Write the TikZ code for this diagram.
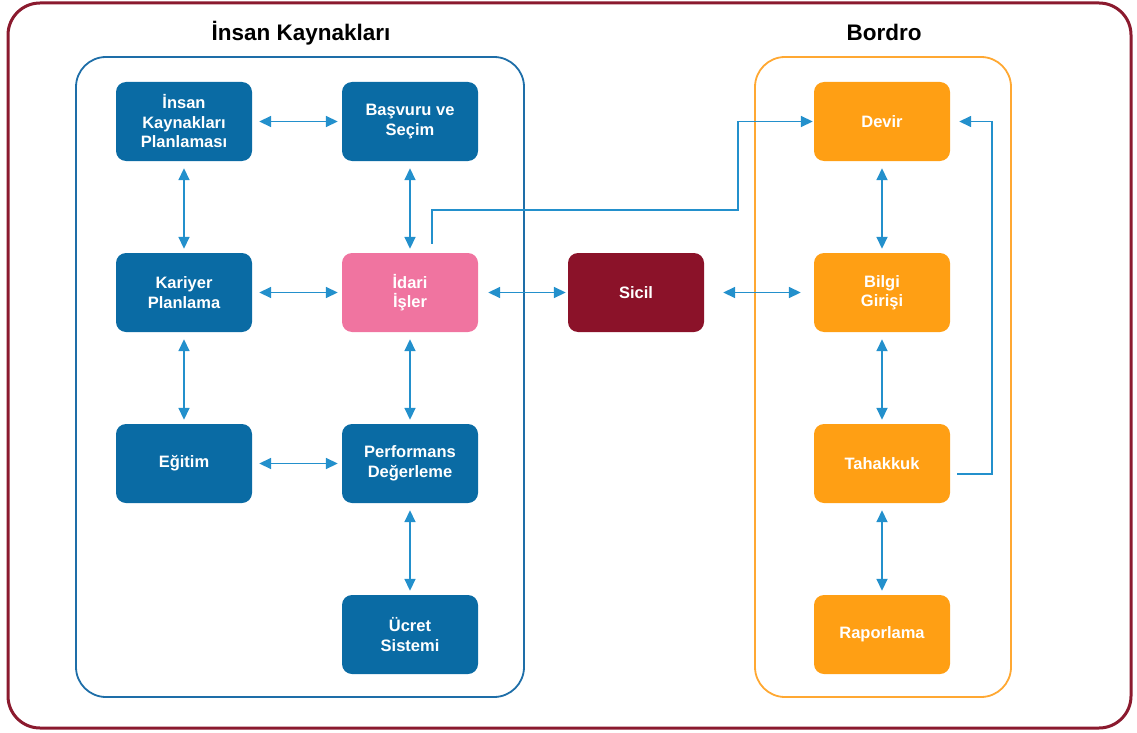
\documentclass[tikz,border=0pt]{standalone}
\usepackage{fontspec}
\setmainfont{Liberation Sans}
\usetikzlibrary{arrows.meta,calc}

\definecolor{hrblue}{RGB}{10,107,164}
\definecolor{idpink}{RGB}{240,116,160}
\definecolor{sicilred}{RGB}{139,18,41}
\definecolor{payorange}{RGB}{255,159,20}
\definecolor{linkblue}{RGB}{35,144,204}
\definecolor{hrframe}{RGB}{30,110,168}
\definecolor{payframe}{RGB}{255,168,50}
\definecolor{outerframe}{RGB}{139,26,46}

\begin{document}
\begin{tikzpicture}[x=1pt,y=-1pt,
  box/.style={rounded corners=10pt, minimum width=136pt, minimum height=79pt,
    inner sep=0pt, align=center, text=white,
    font=\bfseries\fontsize{16.5}{19.5}\selectfont},
  hrbox/.style={box, fill=hrblue},
  adminbox/.style={box, fill=idpink},
  registrybox/.style={box, fill=sicilred},
  paybox/.style={box, fill=payorange},
  grouptitle/.style={anchor=base, inner sep=0pt, font=\bfseries\fontsize{22.5}{26}\selectfont},
  tip/.tip={Triangle[length=12pt,width=11pt]},
  link/.style={draw=linkblue, line width=1.7pt, tip-tip, shorten <=7pt, shorten >=4pt},
  oneway/.style={draw=linkblue, line width=1.6pt, -tip}
]
\useasboundingbox (0,0) rectangle (1137,733);

% frames
\draw[outerframe, line width=3pt, rounded corners=32pt] (8,3) rectangle (1131,728);
\draw[hrframe, line width=1.8pt, rounded corners=30pt] (76,57) rectangle (524,697);
\draw[payframe, line width=1.8pt, rounded corners=30pt] (755,57) rectangle (1011,697);

% group titles
\node[grouptitle] (hrtitle) at (301,41) {İnsan Kaynakları};
\node[grouptitle] (paytitle) at (884,41) {Bordro};

% human resources nodes
\node[hrbox] (ikp) at (184,121.5) {İnsan\\Kaynakları\\Planlaması};
\node[hrbox] (basvuru) at (410,121.5) {Başvuru ve\\Seçim};
\node[hrbox] (kariyer) at (184,292.5) {Kariyer\\Planlama};
\node[adminbox] (idari) at (410,292.5) {İdari\\İşler};
\node[hrbox] (egitim) at (184,463.5) {Eğitim};
\node[hrbox] (perf) at (410,463.5) {Performans\\Değerleme};
\node[hrbox] (ucret) at (410,634.5) {Ücret\\Sistemi};

% registry
\node[registrybox] (sicil) at (636,292.5) {Sicil};

% payroll nodes
\node[paybox] (devir) at (882,121.5) {Devir};
\node[paybox] (bilgi) at (882,292.5) {Bilgi\\Girişi};
\node[paybox] (tahakkuk) at (882,463.5) {Tahakkuk};
\node[paybox] (rapor) at (882,634.5) {Raporlama};

% two-way links
\draw[link] (ikp) -- (basvuru);
\draw[link] (ikp) -- (kariyer);
\draw[link] (basvuru) -- (idari);
\draw[link] (kariyer) -- (idari);
\draw[link] (kariyer) -- (egitim);
\draw[link] (idari) -- (perf);
\draw[link] (egitim) -- (perf);
\draw[link] (perf) -- (ucret);
\draw[link, shorten <=10pt, shorten >=2pt] (idari) -- (sicil);
\draw[link, shorten <=19pt, shorten >=13pt] (sicil) -- (bilgi);
\draw[link] (devir) -- (bilgi);
\draw[link] (bilgi) -- (tahakkuk);
\draw[link] (tahakkuk) -- (rapor);

% one-way feeds into Devir
\coordinate (idaritap) at ([xshift=22pt,yshift=9pt]idari.north);
\draw[oneway, shorten >=1pt] (idaritap) |- (738,210) |- (devir.west);
\coordinate (tahtap) at ([xshift=7pt,yshift=-10.5pt]tahakkuk.east);
\draw[oneway, shorten >=9pt] (tahtap) -| ([xshift=42pt]devir.east) -- (devir.east);
\end{tikzpicture}
\end{document}
